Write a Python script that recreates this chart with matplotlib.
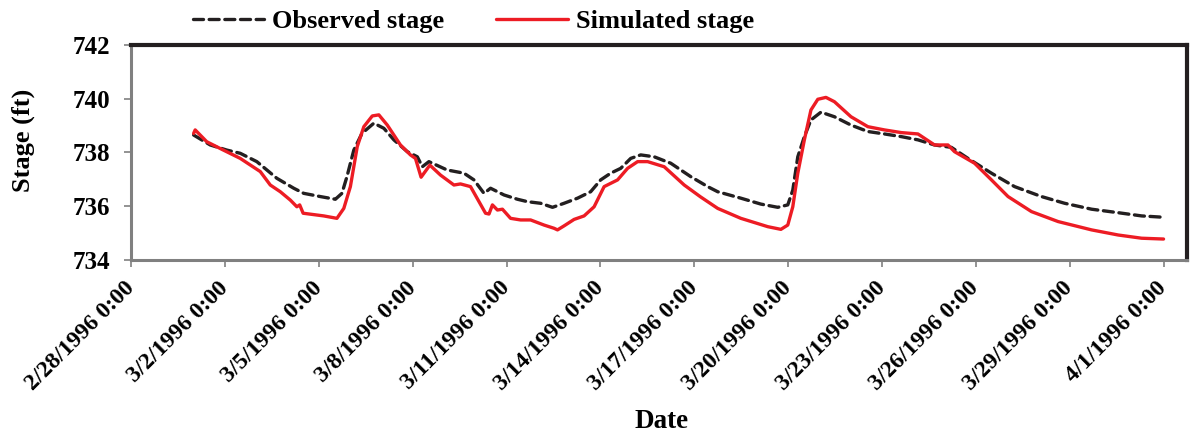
import numpy as np
import pandas as pd
import matplotlib
matplotlib.use("Agg")
import matplotlib.pyplot as plt
import matplotlib.dates as mdates
from matplotlib.ticker import FuncFormatter

plt.rcParams['font.family'] = ['Liberation Serif', 'DejaVu Serif']
plt.rcParams['font.weight'] = 'bold'

# stage record, time in days after 2/28/1996 0:00
obs_day = [2.0, 2.53, 3.06, 3.49, 4.02, 4.66, 5.2, 5.52, 6.05, 6.53, 6.74,
           6.9, 7.12, 7.38, 7.76, 8.08, 8.4, 8.83, 9.15, 9.31, 9.52, 10.1,
           10.64, 10.96, 11.28, 11.49, 11.92, 12.35, 12.67, 13.09, 13.47,
           13.84, 14.27, 14.69, 15.01, 15.33, 15.65, 15.97, 16.29, 16.72,
           17.25, 17.89, 18.43, 18.75, 19.49, 20.13, 20.67, 20.99, 21.15,
           21.31, 21.52, 21.73, 22.05, 22.48, 23.01, 23.55, 24.08, 24.62,
           25.15, 25.68, 26.22, 26.75, 27.5, 28.24, 29.1, 29.84, 30.7, 31.55,
           32.3, 33.0]
obs_stage = [738.65, 738.28, 738.09, 737.97, 737.66, 737.04, 736.67, 736.48,
             736.36, 736.26, 736.48, 737.10, 738.09, 738.71, 739.09, 738.90,
             738.47, 738.03, 737.84, 737.47, 737.66, 737.35, 737.23, 736.98,
             736.48, 736.67, 736.42, 736.26, 736.17, 736.11, 735.96, 736.11,
             736.30, 736.54, 736.98, 737.23, 737.41, 737.78, 737.91, 737.84,
             737.60, 737.10, 736.73, 736.54, 736.30, 736.08, 735.96, 736.05,
             736.60, 737.84, 738.59, 739.21, 739.50, 739.33, 739.02, 738.78,
             738.69, 738.59, 738.47, 738.28, 738.19, 737.78, 737.23, 736.73,
             736.36, 736.11, 735.89, 735.76, 735.64, 735.59]

sim_day = [2.0, 2.05, 2.42, 2.95, 3.49, 4.13, 4.45, 4.77, 5.09, 5.3, 5.39,
           5.5, 6.16, 6.58, 6.8, 7.01, 7.23, 7.44, 7.71, 7.92, 8.19, 8.61,
           8.93, 9.09, 9.27, 9.55, 9.89, 10.32, 10.53, 10.85, 11.33, 11.44,
           11.55, 11.71, 11.87, 12.13, 12.45, 12.77, 13.2, 13.52, 13.63, 13.84,
           14.16, 14.48, 14.8, 15.12, 15.55, 15.87, 16.19, 16.51, 17.04,
           17.68, 18.2, 18.75, 19.49, 20.35, 20.77, 20.99, 21.15, 21.31,
           21.52, 21.73, 21.95, 22.21, 22.48, 23.01, 23.55, 24.08, 24.62,
           25.15, 25.68, 26.11, 26.32, 26.96, 27.5, 28.03, 28.78, 29.63, 30.7,
           31.55, 32.3, 33.0]
sim_stage = [738.71, 738.84, 738.40, 738.09, 737.78, 737.29, 736.79, 736.54,
             736.23, 735.98, 736.05, 735.74, 735.64, 735.55, 735.92, 736.73,
             738.22, 738.96, 739.36, 739.40, 739.02, 738.28, 737.91, 737.78,
             737.08, 737.53, 737.16, 736.79, 736.83, 736.73, 735.74, 735.71,
             736.05, 735.86, 735.89, 735.55, 735.49, 735.49, 735.30, 735.18,
             735.12, 735.27, 735.51, 735.64, 735.98, 736.73, 736.98, 737.41,
             737.66, 737.66, 737.47, 736.79, 736.35, 735.92, 735.55, 735.24,
             735.14, 735.30, 735.98, 737.23, 738.47, 739.58, 739.98, 740.05,
             739.89, 739.33, 738.96, 738.84, 738.74, 738.69, 738.28, 738.28,
             738.03, 737.60, 736.98, 736.36, 735.80, 735.43, 735.12, 734.93,
             734.81, 734.78]

start = pd.Timestamp('1996-02-28')
obs_time = start + pd.to_timedelta(obs_day, unit='D')
sim_time = start + pd.to_timedelta(sim_day, unit='D')

fig = plt.figure(figsize=(11.99, 4.38), dpi=100)
ax = fig.add_axes([0.1093, 0.4064, 0.8807, 0.4909])

ax.plot(obs_time, obs_stage, color='#231f20', lw=2.4, ls=(0, (3.0, 1.7)),
        dash_capstyle='round', label='Observed stage')
ax.plot(sim_time, sim_stage, color='#ed1c24', lw=2.4, solid_joinstyle='round',
        solid_capstyle='round', label='Simulated stage')

ax.set_ylim(734, 742)
ax.set_yticks([734, 736, 738, 740, 742])
ax.set_xlim(start, pd.Timestamp('1996-04-01 18:00'))
ax.set_xticks(pd.date_range('1996-02-28', '1996-04-01', freq='3D'))


def fmt_date(x, pos):
    d = mdates.num2date(x)
    return f"{d.month}/{d.day}/{d.year} {d.hour}:{d.minute:02d}"


ax.xaxis.set_major_formatter(FuncFormatter(fmt_date))
ax.tick_params(axis='y', labelsize=18, length=5, width=1.2, color='#808080',
               pad=10)
ax.tick_params(axis='x', labelsize=17, length=5, width=1.2, color='#808080',
               pad=13)
for lab in ax.get_xticklabels():
    lab.set_rotation(45)
    lab.set_ha('right')
    lab.set_va('center')
    lab.set_rotation_mode('anchor')
    lab.set_fontweight('bold')
for lab in ax.get_yticklabels():
    lab.set_fontweight('bold')

# gray left/bottom, heavy dark top/right border
for side in ['left', 'bottom']:
    ax.spines[side].set_color('#808080')
    ax.spines[side].set_linewidth(2.2)
for side in ['top', 'right']:
    ax.spines[side].set_color('#231f20')
    ax.spines[side].set_linewidth(3)

fig.text(23 / 1199, 1 - 140 / 438, 'Stage (ft)', rotation=90, fontsize=19,
         fontweight='bold', ha='center', va='center')
fig.text(662 / 1199, 1 - 421 / 438, 'Date', fontsize=19.5, fontweight='bold',
         ha='center', va='center')

fig.legend(loc='center', bbox_to_anchor=(473.5 / 1199, 1 - 21 / 438), ncol=2,
           frameon=False, handlelength=2.7, handletextpad=0.3,
           columnspacing=1.97, prop={'weight': 'bold', 'size': 19})

fig.savefig('out.png', dpi=100)
